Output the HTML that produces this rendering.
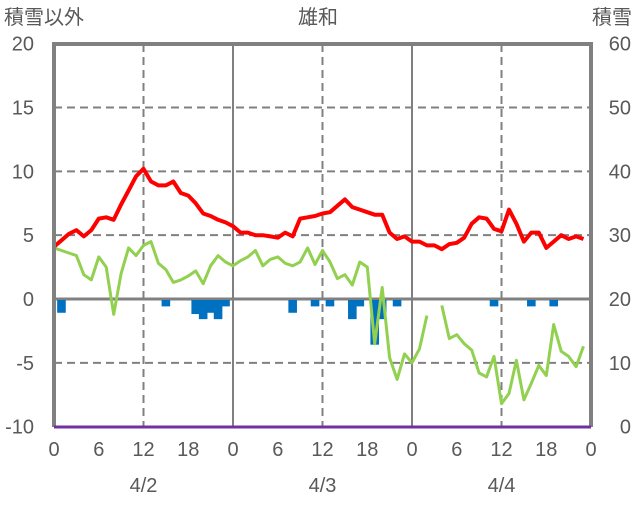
<!DOCTYPE html>
<html><head><meta charset="utf-8"><style>
body{margin:0;background:#fff;}
svg text{font-family:"Liberation Sans","Noto Sans CJK JP",sans-serif;fill:#595959;font-size:20px;}
</style></head><body>
<svg id="chart" width="636" height="501"></svg>
<script>
const hours=[...Array(72).keys()];
const temp=[4.1,4.6,5.1,5.4,4.9,5.4,6.3,6.4,6.2,7.4,8.5,9.6,10.2,9.2,8.9,8.9,9.2,8.3,8.1,7.5,6.7,6.5,6.2,6.0,5.7,5.2,5.2,5.0,5.0,4.9,4.8,5.2,4.9,6.3,6.4,6.5,6.7,6.8,7.3,7.8,7.2,7.0,6.8,6.6,6.6,5.2,4.7,4.9,4.5,4.5,4.2,4.2,3.9,4.3,4.4,4.8,5.9,6.4,6.3,5.5,5.3,7.0,5.9,4.5,5.2,5.2,4.0,4.5,5.0,4.7,4.9,4.7];
const green=[4.0,3.8,3.6,3.4,1.9,1.5,3.3,2.5,-1.2,2.0,4.0,3.4,4.2,4.5,2.8,2.3,1.3,1.5,1.8,2.2,1.2,2.6,3.4,2.9,2.6,3.0,3.3,3.8,2.6,3.1,3.3,2.8,2.6,2.9,4.0,2.7,3.8,2.9,1.6,1.9,1.1,2.9,2.5,-3.5,0.9,-4.6,-6.3,-4.3,-5.0,-3.9,-1.3,null,-0.5,-3.1,-2.8,-3.5,-4.0,-5.8,-6.1,-4.5,-8.2,-7.4,-4.8,-7.9,-6.6,-5.2,-6.0,-2.0,-4.1,-4.5,-5.3,-3.7];
const barHours=[1,15,19,20,21,22,23,32,35,37,40,41,43,44,46,59,64,67];
const barVals=[1.0,0.5,1.1,1.5,1.0,1.5,0.5,1.0,0.5,0.5,1.5,0.5,3.5,1.5,0.5,0.5,0.5,0.5];
const leftTicks=[20,15,10,5,0,-5,-10];
const rightTicks=[60,50,40,30,20,10,0];
const xTickLabels=["0","6","12","18","0","6","12","18","0","6","12","18","0"];
const dates=["4/2","4/3","4/4"];
const X=h=>54+h*537/72, Y=v=>299-v*383/30;
const svg=document.getElementById('chart');
const NS='http://www.w3.org/2000/svg';
function mk(t,a){const e=document.createElementNS(NS,t);for(const k in a)e.setAttribute(k,a[k]);svg.appendChild(e);return e;}
// gridlines
[15,10,5,-5].forEach(v=>{const l=mk('line',{x1:54,x2:591,y1:Y(v),y2:Y(v),stroke:'#808080','stroke-width':2,'stroke-dasharray':'8,5'});

});
[12,36,60].forEach(h=>{const l=mk('line',{x1:X(h),x2:X(h),y1:44,y2:427,stroke:'#808080','stroke-width':2,'stroke-dasharray':'8,5'});

});
[24,48].forEach(h=>{const l=mk('line',{x1:X(h),x2:X(h),y1:44,y2:427,stroke:'#808080','stroke-width':2});

});
const z=mk('line',{x1:54,x2:591,y1:Y(0),y2:Y(0),stroke:'#808080','stroke-width':3});


// bars
barHours.forEach((h,i)=>{const r=mk('rect',{x:X(h)-4.3,y:Y(0)+1,width:8.6,height:barVals[i]*383/30,fill:'#0070c0'});

});
// green
let segs=[],cur=[];
green.forEach((v,i)=>{if(v===null){if(cur.length)segs.push(cur);cur=[];}else cur.push(X(hours[i]).toFixed(1)+','+Y(v).toFixed(1));});
if(cur.length)segs.push(cur);
segs.forEach(s=>{const p=mk('polyline',{points:s.join(' '),fill:'none',stroke:'#92d050','stroke-width':3,'stroke-linejoin':'round'});

});
const red=mk('polyline',{points:temp.map((v,i)=>X(hours[i]).toFixed(1)+','+Y(v).toFixed(1)).join(' '),fill:'none',stroke:'#ff0000','stroke-width':4,'stroke-linejoin':'round'});


// frame
const f=mk('path',{d:'M54,427 L54,44 L591,44 L591,427',fill:'none',stroke:'#808080','stroke-width':4});


const pu=mk('line',{x1:54,x2:591,y1:427,y2:427,stroke:'#7030a0','stroke-width':3});


// labels
leftTicks.forEach(v=>{const t=mk('text',{x:34,y:Y(v)+7,'text-anchor':'end'});t.textContent=v;

});
rightTicks.forEach((v,i)=>{const t=mk('text',{x:631,y:Y(leftTicks[i])+7,'text-anchor':'end'});t.textContent=v;

});
xTickLabels.forEach((s,i)=>{const t=mk('text',{x:X(i*6),y:456,'text-anchor':'middle'});t.textContent=s;

});
dates.forEach((s,i)=>{const t=mk('text',{x:X(12+i*24),y:492,'text-anchor':'middle'});t.textContent=s;

});
[['積雪以外',4,'start','left-axis-title'],['雄和',318,'middle','chart-title'],['積雪',632,'end','right-axis-title']].forEach(a=>{const t=mk('text',{x:a[1],y:24,'text-anchor':a[2]});t.textContent=a[0];

});
</script>
</body></html>
